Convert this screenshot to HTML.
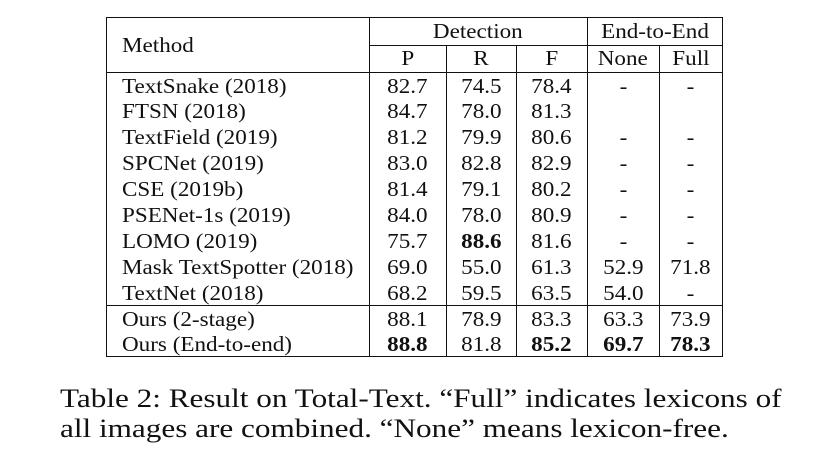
<!DOCTYPE html>
<html><head><meta charset="utf-8"><style>
body{margin:0;width:820px;height:471px;background:#fff;position:relative;overflow:hidden;font-family:"Liberation Serif",serif;color:#111}
.l{position:absolute;background:#111}
.t{position:absolute;font-size:21px;line-height:26px;white-space:nowrap}
.c{text-align:center}
.c>span{display:inline-block;transform:scaleX(1.1)}
.m{transform:scaleX(1.1);transform-origin:left center}
b{font-weight:bold}
.cap{position:absolute;left:60px;font-size:26px;white-space:nowrap;transform:scaleX(1.2);transform-origin:left center}
</style></head><body>
<div>
<div class="l" style="left:106px;top:17px;width:617px;height:1.3px"></div>
<div class="l" style="left:106px;top:72px;width:617px;height:1.3px"></div>
<div class="l" style="left:106px;top:305px;width:617px;height:1.3px"></div>
<div class="l" style="left:106px;top:356px;width:617px;height:1.3px"></div>
<div class="l" style="left:369px;top:45px;width:354px;height:1.3px"></div>
<div class="l" style="left:106px;top:17px;width:1.3px;height:340px"></div>
<div class="l" style="left:722px;top:17px;width:1.3px;height:340px"></div>
<div class="l" style="left:369px;top:17px;width:1.3px;height:340px"></div>
<div class="l" style="left:587px;top:17px;width:1.3px;height:340px"></div>
<div class="l" style="left:446px;top:45px;width:1.3px;height:312px"></div>
<div class="l" style="left:516px;top:45px;width:1.3px;height:312px"></div>
<div class="l" style="left:659px;top:45px;width:1.3px;height:312px"></div>
<div class="t m" style="left:122px;top:32px">Method</div>
<div class="t c" style="left:369px;width:218px;top:18px"><span>Detection</span></div>
<div class="t c" style="left:587px;width:136px;top:18px"><span>End-to-End</span></div>
<div id="rows"></div>
</div>
<div class="cap" style="top:384px">Table 2: Result on Total-Text. “Full” indicates lexicons of</div>
<div class="cap" style="top:414px">all images are combined. “None” means lexicon-free.</div>
<script>
const cols=[[369,446],[446,516],[516,587],[587,659],[659,722]];
const heads=["P","R","F","None","Full"];
const rows=[
["TextSnake (2018)","82.7","74.5","78.4","-","-"],
["FTSN (2018)","84.7","78.0","81.3","",""],
["TextField (2019)","81.2","79.9","80.6","-","-"],
["SPCNet (2019)","83.0","82.8","82.9","-","-"],
["CSE (2019b)","81.4","79.1","80.2","-","-"],
["PSENet-1s (2019)","84.0","78.0","80.9","-","-"],
["LOMO (2019)","75.7","*88.6","81.6","-","-"],
["Mask TextSpotter (2018)","69.0","55.0","61.3","52.9","71.8"],
["TextNet (2018)","68.2","59.5","63.5","54.0","-"],
["Ours (2-stage)","88.1","78.9","83.3","63.3","73.9"],
["Ours (End-to-end)","*88.8","81.8","*85.2","*69.7","*78.3"]];
const R=document.getElementById('rows');
function mk(txt,x,w,y,center){const d=document.createElement('div');d.className='t'+(center?' c':' m');d.style.left=x+'px';if(w)d.style.width=w+'px';d.style.top=y+'px';
let h=txt[0]=='*'?'<b>'+txt.slice(1)+'</b>':txt;
d.innerHTML=center?'<span>'+h+'</span>':h;R.appendChild(d);return d;}
heads.forEach((h,i)=>{const d=mk(h,cols[i][0],cols[i][1]-cols[i][0],45,true);

});
rows.forEach((r,j)=>{const y=j<9?72.5+j*25.9:306+(j-9)*25;
const m=mk(r[0],122,0,y,false);


for(let i=1;i<6;i++){const d=mk(r[i],cols[i-1][0],cols[i-1][1]-cols[i-1][0],y,true);

}});
</script>
</body></html>
